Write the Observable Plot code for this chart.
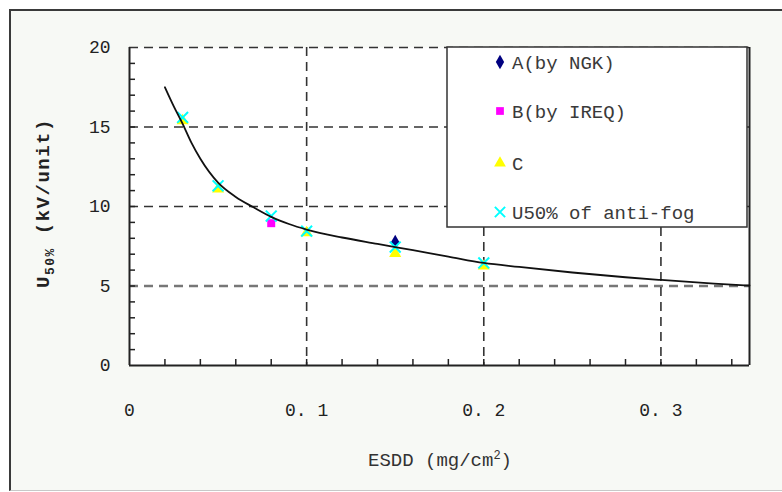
<!DOCTYPE html>
<html><head><meta charset="utf-8">
<script src="https://cdn.jsdelivr.net/npm/d3@7"></script>
<script src="https://cdn.jsdelivr.net/npm/@observablehq/plot@0.6"></script>
<style>
body{margin:0;background:#fff;}
#wrap{position:relative;width:782px;height:492px;overflow:hidden;background:#fff;}
#panel{position:absolute;left:9px;top:9px;width:800px;height:479px;background:#f7f9f5;border-left:2px solid #3a3a3a;border-top:2px solid #3a3a3a;border-bottom:1px solid #c8c8c8;}
#chart{position:absolute;left:0;top:0;}
</style></head><body>
<div id="wrap"><div id="panel"></div><div id="chart"></div></div>
<script>
// ---- data ----
const xTicks = [0, 0.1, 0.2, 0.3];
const xTickLabels = ["0", "0. 1", "0. 2", "0. 3"];
const yTicks = [0, 5, 10, 15, 20];
const yMinorTicks = [1,2,3,4,5,6,7,8,9,10,11,12,13,14,15,16,17,18,19];
const xMinorTicks = [0.02,0.04,0.06,0.08,0.1,0.12,0.14,0.16,0.18,0.2,0.22,0.24,0.26,0.28,0.3,0.32,0.34];
const seriesNames = ["A(by NGK)", "B(by IREQ)", "C", "U50% of anti-fog"];
const seriesColors = ["#000080", "#ff00ff", "#ffff00", "#00ffff"];
const aX = [0.15], aY = [7.75];
const bX = [0.08], bY = [8.95];
const cX = [0.03, 0.05, 0.1, 0.15, 0.2], cY = [15.4, 11.1, 8.35, 7.05, 6.25];
const uX = [0.03, 0.05, 0.08, 0.1, 0.15, 0.2], uY = [15.6, 11.3, 9.4, 8.45, 7.45, 6.45];
const fitX = [0.02, 0.025, 0.03, 0.035, 0.04, 0.05, 0.06, 0.07, 0.08, 0.09, 0.1, 0.12, 0.14, 0.16, 0.18, 0.2, 0.22, 0.25, 0.28, 0.3, 0.33, 0.35];
const fitY = [17.5, 16.3, 15.2, 14.0, 13.0, 11.5, 10.6, 9.95, 9.35, 8.9, 8.55, 8.05, 7.65, 7.25, 6.85, 6.45, 6.2, 5.85, 5.55, 5.38, 5.15, 5.03];

const pts = (xs, ys) => xs.map((x, i) => ({x, y: ys[i]}));
const A = pts(aX, aY), B = pts(bX, bY), C = pts(cX, cY), U = pts(uX, uY), FIT = pts(fitX, fitY);

const font = "Liberation Mono, DejaVu Sans Mono, monospace";
const dash = {stroke: "#333", strokeWidth: 1.6, strokeDasharray: "9,6"};

const chart = Plot.plot({
  width: 782, height: 492,
  marginLeft: 129, marginRight: 33, marginTop: 47, marginBottom: 127,
  style: {background: "transparent", fontFamily: font, color: "#222"},
  x: {domain: [0, 0.35]},
  y: {domain: [0, 20]},
  marks: [
    Plot.frame({fill: "white", stroke: "none"}),
    Plot.ruleY([10, 15, 20], {y: d => d, ...dash}),
    Plot.ruleY([5], {y: d => d, stroke: "#777", strokeWidth: 2.5, strokeDasharray: "9,6"}),
    Plot.ruleX([0.1, 0.2, 0.3], {x: d => d, ...dash}),
    Plot.axisY(yMinorTicks, {tickSize: -6, tickFormat: () => "", label: null, strokeWidth: 1.5}),
    Plot.axisX(xMinorTicks, {tickSize: -6, tickFormat: () => "", label: null, strokeWidth: 1.5}),
    Plot.axisY(yTicks, {tickSize: 0, tickPadding: 19, fontSize: 18, fontFamily: font, label: null}),
    Plot.axisX(xTicks, {tickSize: 0, tickPadding: 38, fontSize: 18, fontFamily: font, label: null,
      tickFormat: d => xTickLabels[xTicks.indexOf(d)]}),
    Plot.ruleX([0, 0.35], {x: d => d, stroke: "#222", strokeWidth: 2}),
    Plot.ruleY([0], {y: d => d, stroke: "#222", strokeWidth: 2}),
    Plot.dot(A, {x: "x", y: "y", symbol: "diamond", fill: seriesColors[0], r: 4.5}),
    Plot.dot(B, {x: "x", y: "y", symbol: "square", fill: seriesColors[1], r: 4.5}),
    Plot.dot(C, {x: "x", y: "y", symbol: "triangle", fill: seriesColors[2], r: 4.5}),
    Plot.dot(U, {x: "x", y: "y", symbol: "times", stroke: seriesColors[3], strokeWidth: 2, r: 5}),
    Plot.line(FIT, {x: "x", y: "y", curve: "monotone-x", stroke: "#111", strokeWidth: 1.8})
  ]
});
document.getElementById("chart").appendChild(chart);

const svg = d3.select(chart);
// legend
const lg = svg.append("g").attr("text-anchor", "start");
lg.append("rect").attr("x", 447).attr("y", 47).attr("width", 300).attr("height", 180)
  .attr("fill", "white").attr("stroke", "#333").attr("stroke-width", 1.5);
const symbols = [d3.symbolDiamond, d3.symbolSquare, d3.symbolTriangle, d3.symbolX];
const rowY = [62, 111, 163, 212];
seriesNames.forEach((name, i) => {
  const isX = i === 3;
  lg.append("path").attr("transform", `translate(500,${rowY[i]})`)
    .attr("d", d3.symbol(symbols[i], isX ? 70 : 60)())
    .attr("fill", isX ? "none" : seriesColors[i])
    .attr("stroke", isX ? seriesColors[i] : "none").attr("stroke-width", 2);
  lg.append("text").attr("x", 512).attr("y", rowY[i]).attr("dy", "0.36em")
    .attr("text-anchor", "start")
    .attr("font-family", font).attr("font-size", 19).attr("fill", "#3a3a3a").text(name);
});
// axis titles
const xt = svg.append("text").attr("x", 440).attr("y", 466).attr("text-anchor", "middle")
  .attr("font-family", font).attr("font-size", 19).attr("fill", "#333");
xt.append("tspan").text("ESDD (mg/cm");
xt.append("tspan").attr("dy", -7).attr("font-size", 12).text("2");
xt.append("tspan").attr("dy", 7).text(")");
const yt = svg.append("text").attr("transform", "translate(49,203) rotate(-90)").attr("text-anchor", "middle")
  .attr("font-family", font).attr("font-size", 19).attr("font-weight", "bold").attr("fill", "#222")
  .attr("letter-spacing", 1.5);
yt.append("tspan").text("U");
yt.append("tspan").attr("dy", 5).attr("font-size", 13).text("50%");
yt.append("tspan").attr("dy", -5).text(" (kV/unit)");
</script>
</body></html>
